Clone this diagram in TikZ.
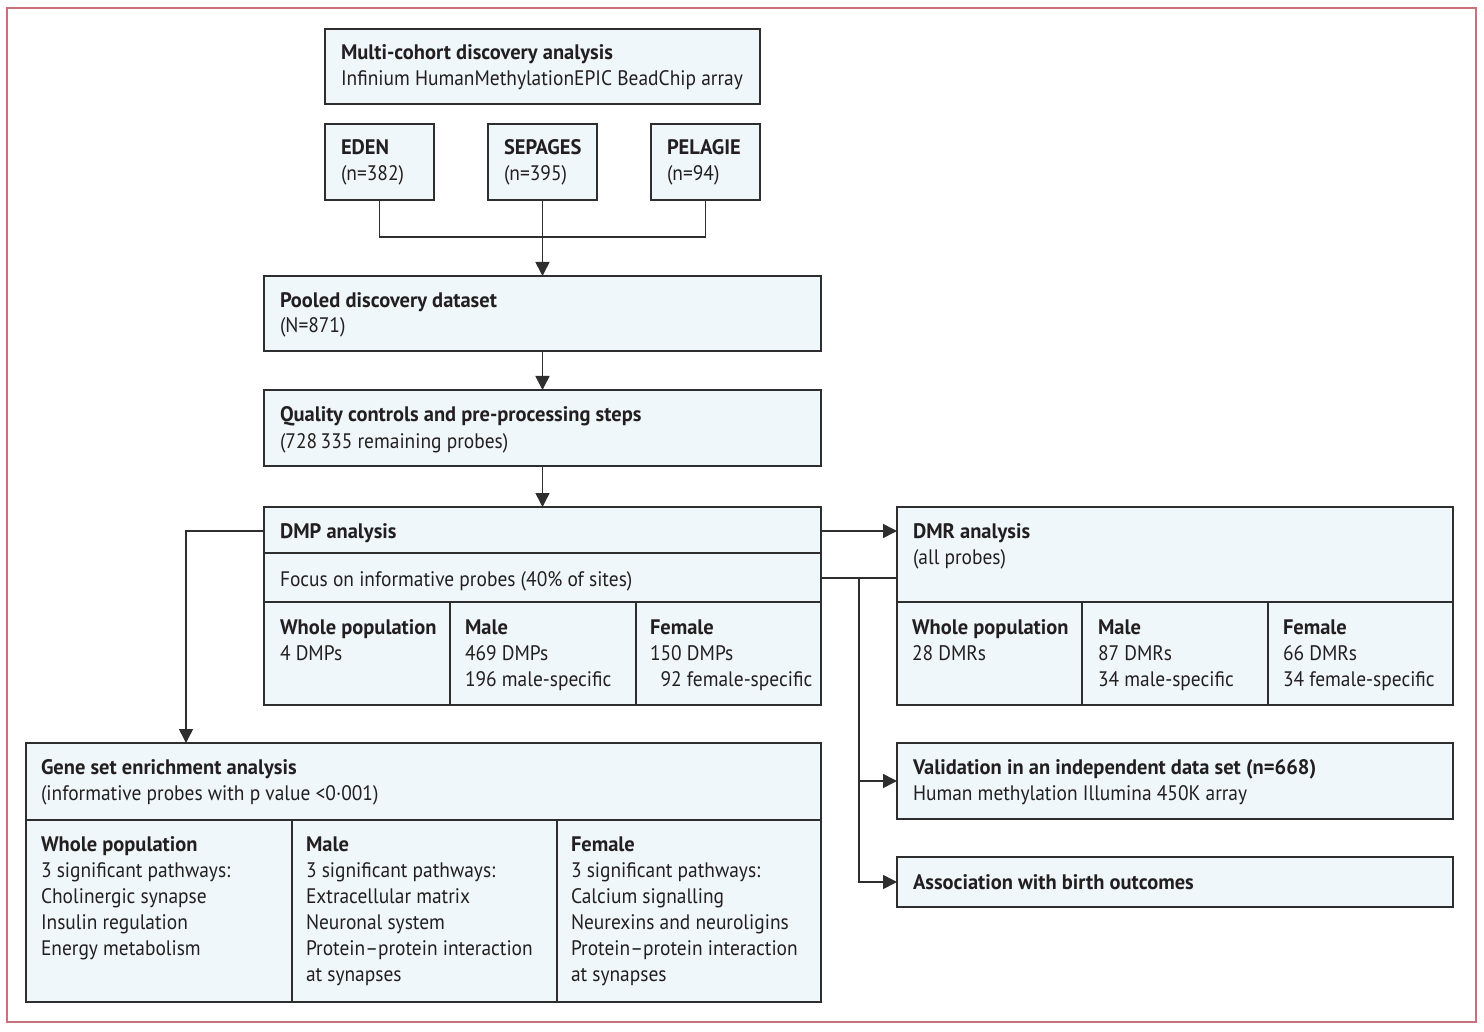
\documentclass[tikz,border=0pt]{standalone}
\usepackage{fontspec}
\setmainfont{PT Sans}[FakeStretch=0.925, BoldFeatures={FakeStretch=0.975}]
\usetikzlibrary{arrows.meta}
\definecolor{boxfill}{HTML}{EFF7FA}
\definecolor{boxline}{HTML}{2E2E2E}
\definecolor{framecol}{HTML}{C9707C}
\definecolor{textcol}{HTML}{231F20}
\newcommand\mybox[5]{\node[box, minimum width={(#4-#2)*0.5pt}, minimum height={(#5-#3)*0.5pt}] (#1) at (#2,#3) {};}
\newcommand\mytxt[4]{\node[txt] (#1) at (#2,#3) {#4};}
\begin{document}
\begin{tikzpicture}[x=0.5pt,y=-0.5pt,
  box/.style={draw=boxline, fill=boxfill, line width=1pt, rectangle, inner sep=0pt, outer sep=0pt, anchor=north west},
  txt/.style={anchor=base west, inner sep=0pt, outer sep=0pt, font=\fontsize{10.5}{13}\selectfont, text=textcol},
  ln/.style={draw=boxline, line width=0.8pt},
  arr/.style={draw=boxline, line width=0.8pt, -{Triangle[length=7pt,width=7pt]}},
  divl/.style={draw=boxline, line width=1pt}]
\useasboundingbox (0,0) rectangle (1484,1032);
\draw[framecol, line width=0.8pt] (7,8) rectangle (1476,1022);

% boxes
\mybox{mc}{325}{29}{760}{104}
\mybox{eden}{325}{124}{434}{200}
\mybox{sep}{488}{124}{597}{200}
\mybox{pel}{651}{124}{760}{200}
\mybox{pool}{264}{276}{821}{351}
\mybox{qc}{264}{390}{821}{466}
\mybox{dmp}{264}{507}{821}{705}
\mybox{dmr}{897}{507}{1453}{705}
\mybox{gsea}{26}{743}{821}{1002}
\mybox{val}{897}{743}{1453}{819}
\mybox{assoc}{897}{857}{1453}{907}

% internal dividers
\draw[divl] (264,553) -- (821,553);
\draw[divl] (264,602) -- (821,602);
\draw[divl] (450,602) -- (450,705);
\draw[divl] (636,602) -- (636,705);
\draw[divl] (897,602) -- (1453,602);
\draw[divl] (1082,602) -- (1082,705);
\draw[divl] (1268,602) -- (1268,705);
\draw[divl] (26,820) -- (821,820);
\draw[divl] (292,820) -- (292,1002);
\draw[divl] (557,820) -- (557,1002);

% texts
\mytxt{t1}{341}{60}{\textbf{Multi-cohort discovery analysis}}
\mytxt{t2}{341}{86}{Infinium HumanMethylationEPIC BeadChip array}
\mytxt{t3}{341}{155}{\textbf{EDEN}}
\mytxt{t4}{341}{181}{(n=382)}
\mytxt{t5}{504}{155}{\textbf{SEPAGES}}
\mytxt{t6}{504}{181}{(n=395)}
\mytxt{t7}{667}{155}{\textbf{PELAGIE}}
\mytxt{t8}{667}{181}{(n=94)}
\mytxt{t9}{280}{307}{\textbf{Pooled discovery dataset}}
\mytxt{t10}{280}{333}{(N=871)}
\mytxt{t11}{280}{422}{\textbf{Quality controls and pre-processing steps}}
\mytxt{t12}{280}{448}{(728\,335 remaining probes)}
\mytxt{t13}{280}{538}{\textbf{DMP analysis}}
\mytxt{t14}{280}{586}{Focus on informative probes (40\% of sites)}
\mytxt{t15}{280}{634}{\textbf{Whole population}}
\mytxt{t16}{280}{660}{4 DMPs}
\mytxt{t17}{465}{634}{\textbf{Male}}
\mytxt{t18}{465}{660}{469 DMPs}
\mytxt{t19}{465}{686}{196 male-specific}
\mytxt{t20}{650}{634}{\textbf{Female}}
\mytxt{t21}{650}{660}{150 DMPs}
\mytxt{t22}{650}{686}{\hphantom{1}92 female-specific}
\mytxt{t23}{913}{538}{\textbf{DMR analysis}}
\mytxt{t24}{913}{564}{(all probes)}
\mytxt{t25}{912}{634}{\textbf{Whole population}}
\mytxt{t26}{912}{660}{28 DMRs}
\mytxt{t27}{1098}{634}{\textbf{Male}}
\mytxt{t28}{1098}{660}{87 DMRs}
\mytxt{t29}{1098}{686}{34 male-specific}
\mytxt{t30}{1283}{634}{\textbf{Female}}
\mytxt{t31}{1283}{660}{66 DMRs}
\mytxt{t32}{1283}{686}{34 female-specific}
\mytxt{t33}{41}{774}{\textbf{Gene set enrichment analysis}}
\mytxt{t34}{41}{800}{(informative probes with p value <0·001)}
\mytxt{t35}{41}{851}{\textbf{Whole population}}
\mytxt{t36}{41}{877}{3 significant pathways:}
\mytxt{t37}{41}{903}{Cholinergic synapse}
\mytxt{t38}{41}{929}{Insulin regulation}
\mytxt{t39}{41}{955}{Energy metabolism}
\mytxt{t40}{306}{851}{\textbf{Male}}
\mytxt{t41}{306}{877}{3 significant pathways:}
\mytxt{t42}{306}{903}{Extracellular matrix}
\mytxt{t43}{306}{929}{Neuronal system}
\mytxt{t44}{306}{955}{Protein–protein interaction}
\mytxt{t45}{306}{981}{at synapses}
\mytxt{t46}{571}{851}{\textbf{Female}}
\mytxt{t47}{571}{877}{3 significant pathways:}
\mytxt{t48}{571}{903}{Calcium signalling}
\mytxt{t49}{571}{929}{Neurexins and neuroligins}
\mytxt{t50}{571}{955}{Protein–protein interaction}
\mytxt{t51}{571}{981}{at synapses}
\mytxt{t52}{913}{774}{\textbf{Validation in an independent data set (n=668)}}
\mytxt{t53}{913}{800}{Human methylation Illumina 450K array}
\mytxt{t54}{913}{889}{\textbf{Association with birth outcomes}}

% connector helper coordinates
\coordinate (dmpa) at (821,531);
\coordinate (dmpl) at (264,531);
\coordinate (focr) at (821,578);
\coordinate (branch) at (859,578);
\coordinate (gtop) at (186,743);

% connectors
\draw[ln] (eden.south) -- ++(0,37) -| (pel.south);
\draw[arr] (sep.south) -- (pool.north);
\draw[arr] (pool.south) -- (qc.north);
\draw[arr] (qc.south) -- (dmp.north);
\draw[arr] (dmpa) -- (dmr.west |- dmpa);
\draw[ln] (focr) -- (dmr.west |- focr);
\draw[arr] (branch) |- (val.west);
\draw[arr] (branch) |- (assoc.west);
\draw[arr] (dmpl) -| (gtop);
\end{tikzpicture}
\end{document}
